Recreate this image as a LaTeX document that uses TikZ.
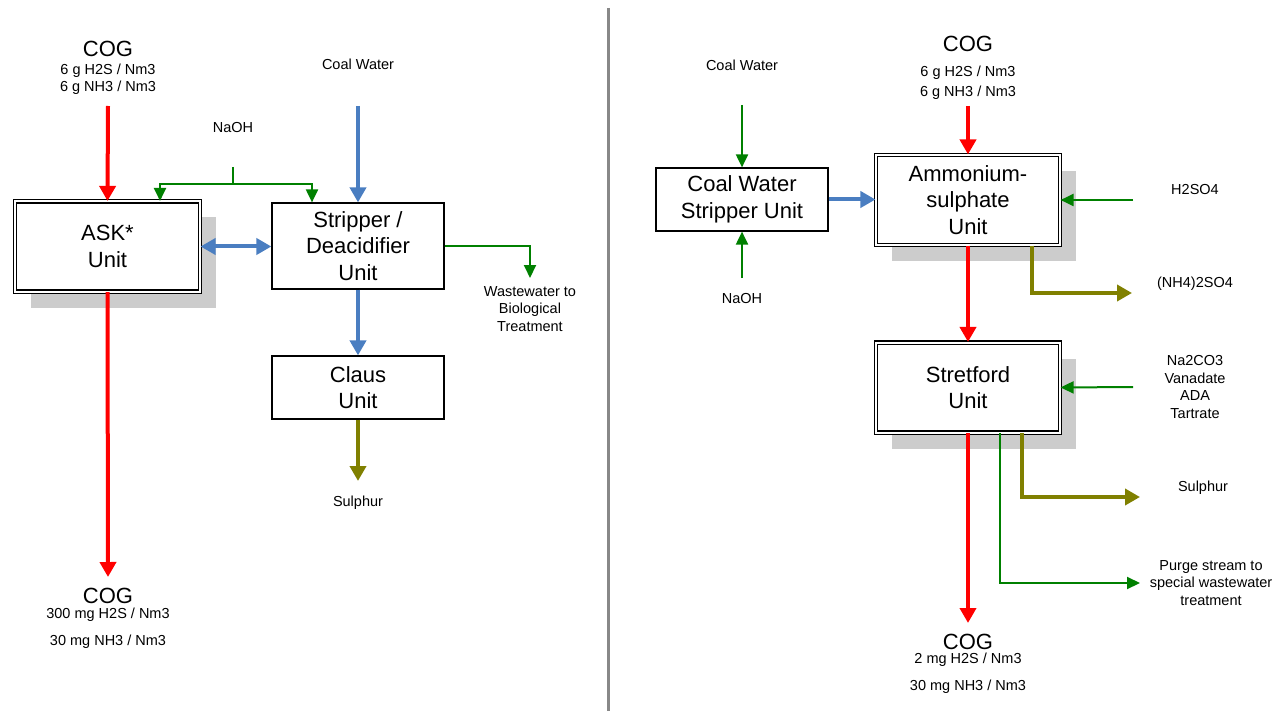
\documentclass[tikz,border=0pt]{standalone}
\usepackage{fontspec}
\setmainfont{Liberation Sans}
\usetikzlibrary{arrows.meta,shadows}

\definecolor{flowred}{RGB}{255,0,0}
\definecolor{flowblue}{RGB}{74,126,193}
\definecolor{flowgreen}{RGB}{0,128,0}
\definecolor{flowolive}{RGB}{128,128,0}
\definecolor{shadowgray}{RGB}{204,204,204}
\definecolor{sepgray}{RGB}{136,136,136}

\begin{document}
\begin{tikzpicture}[x=1pt, y=-1pt,
    big/.style={font=\fontsize{22}{26.5}\selectfont, align=center, inner sep=0pt},
    small/.style={font=\fontsize{14.5}{17.5}\selectfont, align=center, inner sep=0pt},
    unit/.style={draw, line width=1.2pt, fill=white, minimum width=172pt, big},
    dunit/.style={draw, line width=1.1pt, double, double distance=2pt, fill=white,
      minimum width=184pt, minimum height=90pt, big,
      drop shadow={shadow xshift=16pt, shadow yshift=-16pt, fill=shadowgray, opacity=1}},
    fat/.style={line width=4pt, -{Triangle[width=16pt,length=15pt]}},
    slim/.style={line width=2pt, flowgreen, -{Triangle[width=12pt,length=13pt]}}]
  \useasboundingbox (0,0) rectangle (1284,711);
  \draw [sepgray, line width=3pt] (608,8) -- (608,711);

  % left half
  \node [dunit, minimum width=185pt] (ASK) at (107.5,246.5) {ASK*\\Unit};
  \node [unit, minimum height=86pt] (Str) at (358,246) {Stripper /\\Deacidifier\\Unit};
  \node [unit, minimum height=63pt] (Cl) at (358,387.5) {Claus\\Unit};
  \node [big] (T1) at (108,48.5) {COG};
  \node [small] (T2) at (108,79.5) {6 g H2S / Nm3\\[-0.5pt]6 g NH3 / Nm3};
  \node [small] (T3) at (233,128) {NaOH};
  \node [small] (T4) at (358,64) {Coal Water};
  \node [small] (T5) at (530,309) {Wastewater to\\Biological\\Treatment};
  \node [small] (T6) at (358,503) {Sulphur};
  \node [big] (T7) at (108,596) {COG};
  \node [small] (T8) at (108,628.5) {300 mg H2S / Nm3\\[9.5pt]30 mg NH3 / Nm3};
  \coordinate (R1) at (108,106);
  \coordinate (R2) at (108,577);
  \coordinate (B1) at (358,106);
  \coordinate (N1) at (233,167);
  \coordinate (N2) at (233,184);
  \coordinate (W1) at (530,278);
  \coordinate (S1) at (358,481);
  \draw [fat, flowred] (R1) -- (ASK.north);
  \draw [fat, flowred] (ASK.south) -- (R2);
  \draw [fat, flowblue] (B1) -- (Str.north);
  \draw [fat, flowblue, {Triangle[width=16pt,length=15pt]}-{Triangle[width=16pt,length=15pt]}] (ASK.east) -- (ASK.east -| Str.west);
  \draw [line width=2pt, flowgreen] (N1) -- (N2);
  \draw [slim] (N2) -| ([xshift=52.5pt]ASK.north);
  \draw [slim] (N2) -| ([xshift=-46pt]Str.north);
  \draw [slim] (Str.east) -| (W1);
  \draw [fat, flowblue] (Str.south) -- (Cl.north);
  \draw [fat, flowolive] (Cl.south) -- (S1);

  % right half
  \node [unit, minimum height=63pt] (CWS) at (742,199.5) {Coal Water\\Stripper Unit};
  \node [dunit] (AmS) at (968,200) {Ammonium-\\sulphate\\Unit};
  \node [dunit] (Stf) at (968,387.5) {Stretford\\Unit};
  \node [small] (T9) at (742,65) {Coal Water};
  \node [small] (T10) at (742,299) {NaOH};
  \node [big] (T11) at (968,44) {COG};
  \node [small] (T12) at (968,83) {6 g H2S / Nm3\\[2.5pt]6 g NH3 / Nm3};
  \node [small] (T13) at (1195,190) {H2SO4};
  \node [small] (T14) at (1195,284) {(NH4)2SO4};
  \node [small] (T15) at (1195,387) {Na2CO3\\Vanadate\\ADA\\Tartrate};
  \node [small] (T16) at (1203,488) {Sulphur};
  \node [small] (T17) at (1211,583) {Purge stream to\\special wastewater\\treatment};
  \node [big] (T18) at (968,642) {COG};
  \node [small] (T19) at (968,673.5) {2 mg H2S / Nm3\\[9.5pt]30 mg NH3 / Nm3};
  \coordinate (G1) at (742,105);
  \coordinate (G2) at (742,278);
  \coordinate (R3) at (968,106);
  \coordinate (R4) at (968,623);
  \coordinate (H1) at (1133,200);
  \coordinate (H2) at (1133,387);
  \coordinate (O1) at (1132,293);
  \coordinate (O2) at (1140,497);
  \coordinate (P1) at (1140,583);
  \draw [slim] (G1) -- (CWS.north);
  \draw [slim] (G2) -- (CWS.south);
  \draw [fat, flowblue] (CWS.east) -- (CWS.east -| AmS.west);
  \draw [fat, flowred] (R3) -- (AmS.north);
  \draw [slim] (H1) -- (AmS.east);
  \draw [fat, flowolive] ([xshift=64pt]AmS.south) |- (O1);
  \draw [fat, flowred] (AmS.south) -- (Stf.north);
  \draw [slim] (H2) -- (Stf.east);
  \draw [fat, flowred] (Stf.south) -- (R4);
  \draw [fat, flowolive] ([xshift=54pt]Stf.south) |- (O2);
  \draw [slim] ([xshift=32pt]Stf.south) |- (P1);
\end{tikzpicture}
\end{document}
